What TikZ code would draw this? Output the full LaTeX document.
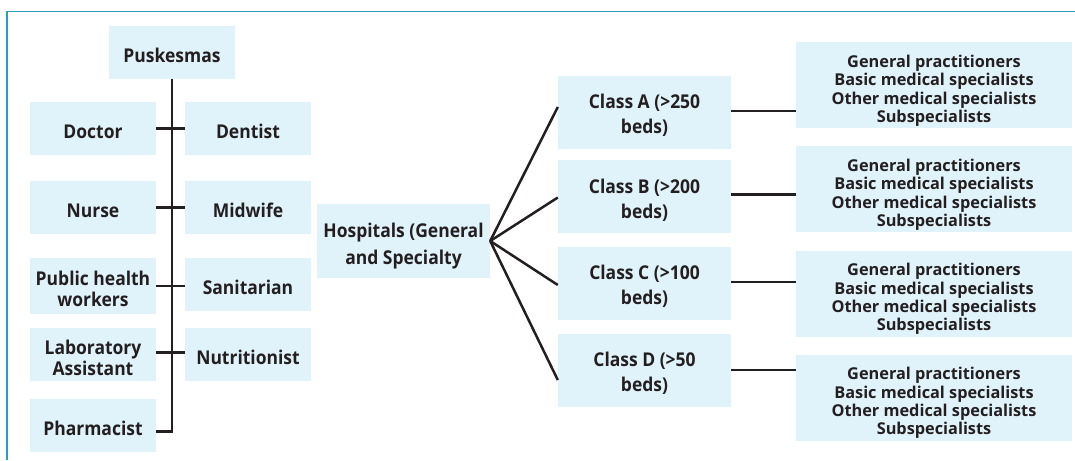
\documentclass[tikz,border=0pt]{standalone}
\usepackage{fontspec}
\setmainfont{Open Sans}
\newfontfamily\labelfont{Open Sans}[FakeStretch=0.92]
\begin{document}
\begin{tikzpicture}[x=1pt,y=-1pt,
  every node/.style={inner sep=0pt, text=ink, align=center, text depth=0pt,
    font=\labelfont\bfseries\fontsize{19}{21}\selectfont},
  one/.style={text height=19.2pt},
  two/.style={text height=41.5pt},
  box/.style={fill=boxfill, minimum width=126, minimum height=53, one},
  boxtwo/.style={fill=boxfill, minimum width=126, minimum height=53, two},
  wide/.style={fill=boxfill, minimum width=173, minimum height=73,
    font=\labelfont\bfseries\fontsize{19}{25}\selectfont, text height=43.2pt},
  staff/.style={fill=boxfill, minimum width=276, minimum height=86, text height=74.6pt,
    font=\bfseries\fontsize{16.3}{18.3}\selectfont},
  link/.style={draw=ink, line width=2.5pt}]
\definecolor{boxfill}{RGB}{224,242,250}
\definecolor{ink}{RGB}{35,31,32}
\definecolor{frame}{RGB}{46,155,191}
\useasboundingbox (0,0) rectangle (1075,460);
% frame
\draw[frame, line width=1.5pt] (7,460) -- (7,11.5) -- (1075,11.5);

% primary care
\node[box] (pusk) at (172,52.5) {Puskesmas};
\node[box] (doctor) at (93,128.5) {Doctor};
\node[box] (dentist) at (248,128.5) {Dentist};
\node[box] (nurse) at (93,207.5) {Nurse};
\node[box] (midwife) at (248,207.5) {Midwife};
\node[boxtwo, minimum height=56] (phw) at (93,286) {Public health\\workers};
\node[box] (sanit) at (248,284.5) {Sanitarian};
\node[boxtwo] (lab) at (93,354.5) {Laboratory\\Assistant};
\node[box] (nutri) at (248,354.5) {Nutritionist};
\node[box] (pharm) at (93,425.5) {Pharmacist};

\draw[link] (pusk.south) |- ([yshift=-6pt]pharm.east);
\draw[link] (doctor.east) -- (dentist.west);
\draw[link] (nurse.east) -- (midwife.west);
\draw[link] (phw.east) -- (phw.east -| sanit.west);
\draw[link] ([yshift=2pt]lab.east) -- ([yshift=2pt]nutri.west);

% hospitals
\node[fill=boxfill, minimum width=173, minimum height=74,
  font=\labelfont\bfseries\fontsize{19}{27}\selectfont, text height=46.6pt]
  (hosp) at (403.5,241) {Hospitals (General\\and Specialty};
\node[wide] (ca) at (644.5,112) {Class A (>250\\beds)};
\node[wide] (cb) at (644.5,196.5) {Class B (>200\\beds)};
\node[wide] (cc) at (644.5,283) {Class C (>100\\beds)};
\node[wide] (cd) at (644.5,370) {Class D (>50\\beds)};

\node[staff] (sa) at (934,85) {General practitioners\\Basic medical specialists\\Other medical specialists\\Subspecialists};
\node[staff] (sb) at (934,189) {General practitioners\\Basic medical specialists\\Other medical specialists\\Subspecialists};
\node[staff] (sc) at (934,293.5) {General practitioners\\Basic medical specialists\\Other medical specialists\\Subspecialists};
\node[staff] (sd) at (934,397.5) {General practitioners\\Basic medical specialists\\Other medical specialists\\Subspecialists};

\draw[link] (hosp.east) -- ([yshift=5pt]ca.west);
\draw[link] (hosp.east) -- ([yshift=-1pt]cb.west);
\draw[link] (hosp.east) -- ([yshift=-2pt]cc.west);
\draw[link] (hosp.east) -- ([yshift=-10pt]cd.west);

\draw[link] ([yshift=1pt]ca.east) -- ([yshift=1pt]ca.east -| sa.west);
\draw[link] ([yshift=2pt]cb.east) -- ([yshift=2pt]cb.east -| sb.west);
\draw[link] ([yshift=1pt]cc.east) -- ([yshift=1pt]cc.east -| sc.west);
\draw[link] (cd.east) -- (cd.east -| sd.west);
\end{tikzpicture}
\end{document}
